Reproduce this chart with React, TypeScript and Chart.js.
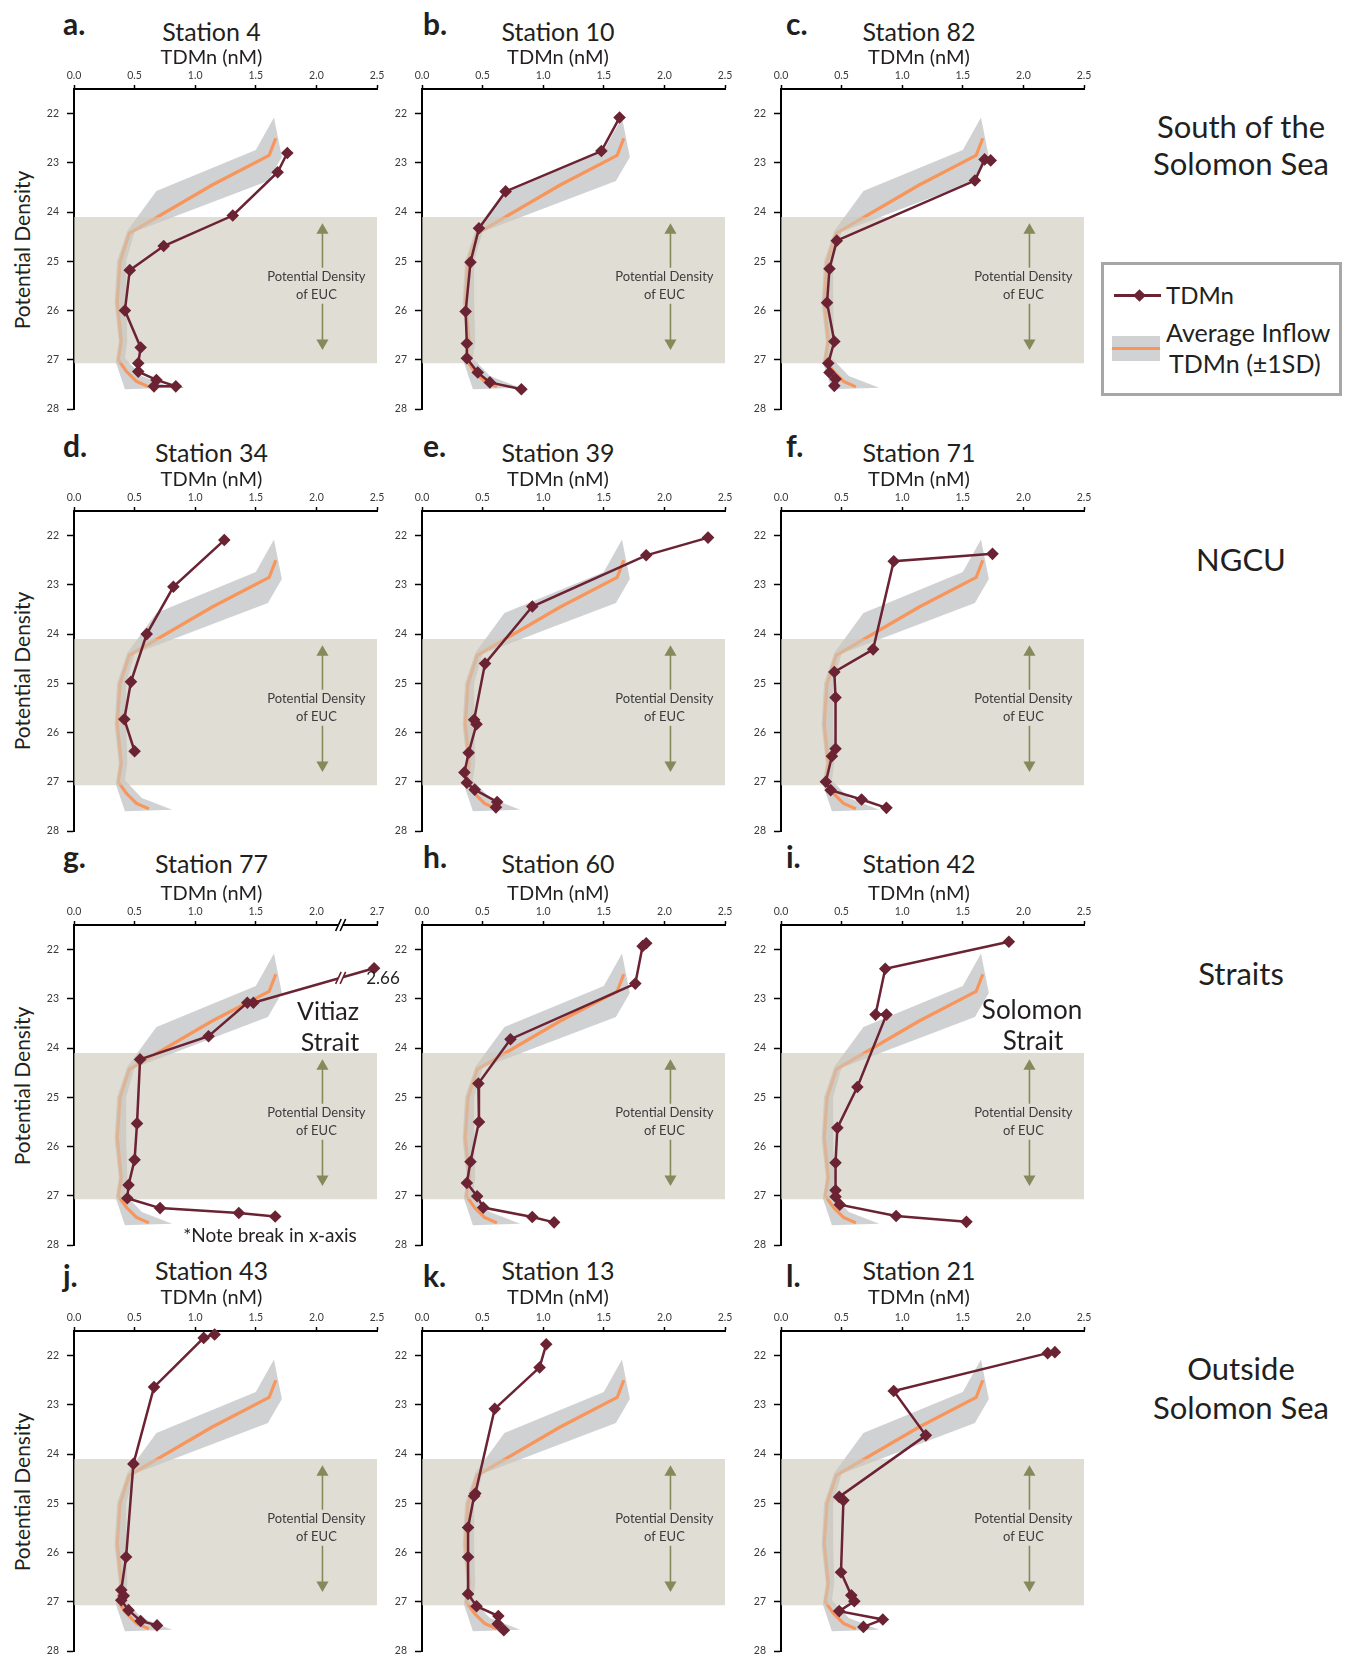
import React, { useEffect, useRef } from 'react';
import { Chart, registerables } from 'chart.js';

Chart.register(...registerables);

// ---------- styling constants ----------
const FONT = 'Lato, "Open Sans", sans-serif';
const MAROON = '#6b2232';
const ORANGE = '#f7955a';
const OLIVE = '#858a5b';
const TEXT = '#231f20';
const TICK_COLOR = '#3a3a3a';
const BAND_COLOR = 'rgba(128,130,135,0.37)';
const EUC_COLOR = 'rgba(205,200,188,0.62)';

// ---------- axes ----------
const TDMN_TICKS = [0, 0.5, 1, 1.5, 2, 2.5];
const DENSITY_TICKS = [22, 23, 24, 25, 26, 27, 28];
const DENSITY_MIN = 21.5;
const DENSITY_MAX = 28;
const TDMN_MAX = 2.5;
const BREAK_AT = 2.2;
const BREAK_RATIO = 0.6;
const BROKEN_LAST_TICK = '2.7';

// ---------- average inflow TDMn (orange) and ±1SD band ----------
const inflowMn = [1.665, 1.61, 1.14, 0.456, 0.38, 0.357, 0.39, 0.365, 0.434, 0.516, 0.618];
const inflowDensity = [22.5, 22.85, 23.45, 24.43, 25.01, 25.82, 26.63, 27.0, 27.24, 27.44, 27.55];
const sdRightMn = [1.65, 1.715, 1.6, 0.5, 0.43, 0.43, 0.44, 0.42, 0.56, 0.81];
const sdRightDensity = [22.08, 22.88, 23.37, 24.4, 25.0, 25.85, 26.63, 26.97, 27.33, 27.57];
const sdLeftMn = [1.5, 0.68, 0.44, 0.355, 0.335, 0.37, 0.345, 0.42];
const sdLeftDensity = [22.74, 23.57, 24.38, 25.0, 25.85, 26.63, 27.05, 27.6];

// ---------- EUC density range ----------
const eucDensity = [24.1, 27.07];
const eucMn = [0, 2.51];
const eucArrowMn = 2.05;
const eucArrowUpper = [24.37, 25.13];
const eucArrowLower = [25.86, 26.66];
const eucLabelMn = 2.0;
const eucLabelDensity = [25.31, 25.68];
const eucLabelLines = ['Potential Density', 'of EUC'];

// ---------- station TDMn profiles ----------
const st4Mn = [1.76, 1.68, 1.31, 0.74, 0.46, 0.42, 0.55, 0.53, 0.53, 0.68, 0.84, 0.66];
const st4Density = [22.8, 23.19, 24.07, 24.69, 25.18, 26.0, 26.75, 27.07, 27.24, 27.41, 27.54, 27.54];
const st10Mn = [1.63, 1.48, 0.69, 0.47, 0.4, 0.36, 0.37, 0.37, 0.46, 0.56, 0.82];
const st10Density = [22.08, 22.76, 23.58, 24.33, 25.02, 26.02, 26.67, 26.97, 27.26, 27.46, 27.6];
const st82Mn = [1.73, 1.68, 1.6, 0.46, 0.4, 0.38, 0.44, 0.39, 0.4, 0.45, 0.44];
const st82Density = [22.95, 22.93, 23.36, 24.58, 25.15, 25.84, 26.63, 27.07, 27.26, 27.39, 27.53];
const st34Mn = [1.24, 0.82, 0.6, 0.47, 0.415, 0.5];
const st34Density = [22.09, 23.04, 24.0, 24.97, 25.73, 26.38];
const st39Mn = [2.36, 1.85, 0.91, 0.52, 0.43, 0.45, 0.385, 0.35, 0.37, 0.435, 0.62, 0.61];
const st39Density = [22.04, 22.4, 23.44, 24.6, 25.74, 25.83, 26.41, 26.81, 27.02, 27.16, 27.41, 27.52];
const st71Mn = [1.745, 0.93, 0.76, 0.44, 0.45, 0.45, 0.42, 0.37, 0.41, 0.665, 0.87];
const st71Density = [22.37, 22.52, 24.31, 24.77, 25.29, 26.33, 26.48, 27.0, 27.17, 27.36, 27.53];
const st77Mn = [2.66, 1.48, 1.43, 1.11, 0.545, 0.52, 0.5, 0.45, 0.44, 0.71, 1.36, 1.66];
const st77Density = [22.38, 23.08, 23.08, 23.76, 24.23, 25.53, 26.27, 26.78, 27.05, 27.25, 27.35, 27.42];
const st60Mn = [1.85, 1.82, 1.76, 0.73, 0.465, 0.47, 0.4, 0.37, 0.455, 0.505, 0.91, 1.09];
const st60Density = [21.87, 21.93, 22.69, 23.82, 24.72, 25.5, 26.31, 26.74, 27.01, 27.24, 27.43, 27.54];
const st42Mn = [1.88, 0.86, 0.78, 0.87, 0.63, 0.465, 0.45, 0.45, 0.45, 0.485, 0.95, 1.53];
const st42Density = [21.84, 22.39, 23.32, 23.32, 24.79, 25.62, 26.33, 26.89, 27.02, 27.18, 27.41, 27.53];
const st43Mn = [1.16, 1.07, 0.66, 0.49, 0.43, 0.39, 0.41, 0.39, 0.45, 0.55, 0.685];
const st43Density = [21.57, 21.64, 22.64, 24.2, 26.09, 26.76, 26.88, 26.97, 27.17, 27.39, 27.48];
const st13Mn = [1.025, 0.97, 0.6, 0.44, 0.43, 0.38, 0.38, 0.38, 0.45, 0.63, 0.625, 0.675];
const st13Density = [21.77, 22.24, 23.08, 24.8, 24.85, 25.49, 26.09, 26.84, 27.09, 27.29, 27.45, 27.58];
const st21Mn = [2.26, 2.2, 0.93, 1.195, 0.48, 0.515, 0.495, 0.58, 0.605, 0.48, 0.84, 0.68];
const st21Density = [21.93, 21.95, 22.72, 23.62, 24.87, 24.94, 26.4, 26.87, 26.99, 27.19, 27.36, 27.51];

type PanelDef = {
  letter: string;
  title: string;
  mn: number[];
  density: number[];
  col: number;
  row: number;
  broken?: boolean;
};

const PANELS: PanelDef[] = [
  { letter: 'a.', title: 'Station 4', mn: st4Mn, density: st4Density, col: 0, row: 0 },
  { letter: 'b.', title: 'Station 10', mn: st10Mn, density: st10Density, col: 1, row: 0 },
  { letter: 'c.', title: 'Station 82', mn: st82Mn, density: st82Density, col: 2, row: 0 },
  { letter: 'd.', title: 'Station 34', mn: st34Mn, density: st34Density, col: 0, row: 1 },
  { letter: 'e.', title: 'Station 39', mn: st39Mn, density: st39Density, col: 1, row: 1 },
  { letter: 'f.', title: 'Station 71', mn: st71Mn, density: st71Density, col: 2, row: 1 },
  { letter: 'g.', title: 'Station 77', mn: st77Mn, density: st77Density, col: 0, row: 2, broken: true },
  { letter: 'h.', title: 'Station 60', mn: st60Mn, density: st60Density, col: 1, row: 2 },
  { letter: 'i.', title: 'Station 42', mn: st42Mn, density: st42Density, col: 2, row: 2 },
  { letter: 'j.', title: 'Station 43', mn: st43Mn, density: st43Density, col: 0, row: 3 },
  { letter: 'k.', title: 'Station 13', mn: st13Mn, density: st13Density, col: 1, row: 3 },
  { letter: 'l.', title: 'Station 21', mn: st21Mn, density: st21Density, col: 2, row: 3 },
];

// ---------- layout (pixels) ----------
const COL_X0 = [73.5, 421.5, 780.5];
const ROW_TOP = [89, 510.5, 925, 1331];
const PLOT_W = 303;
const PLOT_H = 321;
const Y_AXIS_W = 40;
const X_AXIS_H = 28;
const PAD_R = 15;
const PAD_B = 6;
const CANVAS_W = Y_AXIS_W + PLOT_W + PAD_R;
const CANVAS_H = X_AXIS_H + PLOT_H + PAD_B;

const COL_LETTER_X = [63, 423, 786];
const COL_TITLE_X = [211.5, 558, 919];
const ROW_LETTER_Y = [23, 445, 856, 1275];
const ROW_TITLE_Y = [31, 452, 863, 1270];
const ROW_UNIT_Y = [55.5, 477.5, 891.5, 1296];

const toPts = (xs: number[], ys: number[]) => xs.map((x, i) => ({ x, y: ys[i] }));

function drawBreak(ctx: CanvasRenderingContext2D, cx: number, cy: number, color: string) {
  ctx.save();
  ctx.fillStyle = '#fff';
  ctx.beginPath();
  ctx.moveTo(cx - 5, cy + 6);
  ctx.lineTo(cx + 0.5, cy - 6);
  ctx.lineTo(cx + 5, cy - 6);
  ctx.lineTo(cx - 0.5, cy + 6);
  ctx.closePath();
  ctx.fill();
  ctx.strokeStyle = color;
  ctx.lineWidth = 1.6;
  ctx.beginPath();
  ctx.moveTo(cx - 5, cy + 6);
  ctx.lineTo(cx + 0.5, cy - 6);
  ctx.moveTo(cx - 0.5, cy + 6);
  ctx.lineTo(cx + 5, cy - 6);
  ctx.stroke();
  ctx.restore();
}

function Panel({ p }: { p: PanelDef }) {
  const ref = useRef<HTMLCanvasElement>(null);
  useEffect(() => {
    const canvas = ref.current;
    if (!canvas) return;
    const broken = !!p.broken;
    const toAxis = (v: number) => (broken && v > BREAK_AT ? BREAK_AT + (v - BREAK_AT) * BREAK_RATIO : v);

    const band = [...toPts(sdRightMn, sdRightDensity), ...toPts(sdLeftMn, sdLeftDensity).reverse()];
    const inflow = toPts(inflowMn, inflowDensity);
    const box = [
      { x: eucMn[0], y: eucDensity[0] },
      { x: eucMn[1], y: eucDensity[0] },
      { x: eucMn[1], y: eucDensity[1] },
      { x: eucMn[0], y: eucDensity[1] },
    ];
    const upper = eucArrowUpper.map((y) => ({ x: eucArrowMn, y }));
    const lower = eucArrowLower.map((y) => ({ x: eucArrowMn, y }));
    const station = p.mn.map((v, i) => ({ x: toAxis(v), y: p.density[i] }));

    const annot = {
      id: 'annot',
      afterDatasetsDraw(chart: any) {
        const { ctx, chartArea, scales } = chart;
        const xs = scales.x;
        const ys = scales.y;
        ctx.save();
        ctx.font = `13px ${FONT}`;
        ctx.fillStyle = '#3c3c3c';
        ctx.textAlign = 'center';
        ctx.textBaseline = 'middle';
        eucLabelLines.forEach((t, i) => {
          ctx.fillText(t, xs.getPixelForValue(eucLabelMn), ys.getPixelForValue(eucLabelDensity[i]));
        });
        ctx.restore();
        if (broken) {
          const bx = xs.getPixelForValue(BREAK_AT);
          drawBreak(ctx, bx, chartArea.top, '#000');
          for (let i = 0; i < station.length - 1; i++) {
            const a = station[i];
            const b = station[i + 1];
            if ((a.x - BREAK_AT) * (b.x - BREAK_AT) <= 0 && a.x !== b.x) {
              const t = (BREAK_AT - a.x) / (b.x - a.x);
              const yv = a.y + t * (b.y - a.y);
              drawBreak(ctx, bx, ys.getPixelForValue(yv), MAROON);
              break;
            }
          }
        }
      },
    };

    const tickFont = { family: FONT, size: 10.5 };
    const chart = new Chart(canvas, {
      type: 'scatter',
      data: {
        datasets: [
          {
            label: 'band',
            data: band,
            showLine: true,
            fill: 'shape',
            backgroundColor: BAND_COLOR,
            borderColor: 'transparent',
            borderWidth: 0,
            pointRadius: 0,
            order: 10,
          } as any,
          {
            label: 'Average Inflow',
            data: inflow,
            showLine: true,
            fill: false,
            borderColor: ORANGE,
            borderWidth: 3.2,
            pointRadius: 0,
            order: 9,
          },
          {
            label: 'EUC',
            data: box,
            showLine: true,
            fill: 'shape',
            backgroundColor: EUC_COLOR,
            borderColor: 'transparent',
            borderWidth: 0,
            pointRadius: 0,
            order: 8,
          } as any,
          {
            label: 'arrowUp',
            data: upper,
            showLine: true,
            fill: false,
            borderColor: OLIVE,
            backgroundColor: OLIVE,
            borderWidth: 1.6,
            pointStyle: 'triangle',
            pointRadius: [7, 0],
            pointRotation: [0, 0],
            pointBorderWidth: 0,
            order: 7,
            clip: false,
          } as any,
          {
            label: 'arrowDown',
            data: lower,
            showLine: true,
            fill: false,
            borderColor: OLIVE,
            backgroundColor: OLIVE,
            borderWidth: 1.6,
            pointStyle: 'triangle',
            pointRadius: [0, 7],
            pointRotation: [0, 180],
            pointBorderWidth: 0,
            order: 6,
            clip: false,
          } as any,
          {
            label: 'TDMn',
            data: station,
            showLine: true,
            fill: false,
            borderColor: MAROON,
            backgroundColor: MAROON,
            borderWidth: 2.5,
            pointStyle: 'rectRot',
            pointRadius: 6.3,
            pointBorderWidth: 0,
            order: 1,
            clip: false,
          } as any,
        ],
      },
      options: {
        responsive: false,
        animation: false,
        events: [],
        layout: { padding: { left: 0, right: PAD_R, top: 0, bottom: PAD_B } },
        plugins: {
          legend: { display: false },
          tooltip: { enabled: false },
          title: { display: false },
        },
        scales: {
          x: {
            type: 'linear',
            position: 'top',
            min: 0,
            max: TDMN_MAX,
            afterBuildTicks: (s: any) => {
              s.ticks = TDMN_TICKS.map((v) => ({ value: v }));
            },
            afterFit: (s: any) => {
              s.height = X_AXIS_H;
              s.paddingLeft = 0;
              s.paddingRight = 0;
            },
            ticks: {
              autoSkip: false,
              maxRotation: 0,
              padding: 3,
              color: TICK_COLOR,
              font: tickFont,
              callback: (v: any) => (broken && Number(v) === TDMN_MAX ? BROKEN_LAST_TICK : Number(v).toFixed(1)),
            },
            grid: { drawOnChartArea: false, drawTicks: true, tickLength: 4, tickColor: '#000', tickWidth: 1.5 },
            border: { display: true, color: '#000', width: 2 },
          },
          y: {
            type: 'linear',
            reverse: true,
            min: DENSITY_MIN,
            max: DENSITY_MAX,
            afterBuildTicks: (s: any) => {
              s.ticks = DENSITY_TICKS.map((v) => ({ value: v }));
            },
            afterFit: (s: any) => {
              s.width = Y_AXIS_W;
              s.paddingTop = 0;
              s.paddingBottom = 0;
            },
            ticks: {
              autoSkip: false,
              padding: 8,
              color: TICK_COLOR,
              font: tickFont,
              callback: (v: any) => String(v),
            },
            grid: { drawOnChartArea: false, drawTicks: true, tickLength: 7, tickColor: '#000', tickWidth: 1.5 },
            border: { display: true, color: '#000', width: 2 },
          },
        },
      } as any,
      plugins: [annot],
    });
    return () => chart.destroy();
  }, [p]);

  const left = COL_X0[p.col] - Y_AXIS_W;
  const top = ROW_TOP[p.row] - X_AXIS_H;
  return (
    <canvas
      ref={ref}
      width={CANVAS_W}
      height={CANVAS_H}
      style={{ position: 'absolute', left, top, width: CANVAS_W, height: CANVAS_H }}
    />
  );
}

type TxtProps = {
  x: number;
  y: number;
  size: number;
  children: React.ReactNode;
  bold?: boolean;
  align?: 'center' | 'left';
  rotate?: number;
  color?: string;
};

function Txt({ x, y, size, children, bold, align = 'center', rotate, color = TEXT }: TxtProps) {
  const tx = align === 'center' ? '-50%' : '0';
  return (
    <div
      style={{
        position: 'absolute',
        left: x,
        top: y,
        transform: `translate(${tx},-50%)${rotate ? ` rotate(${rotate}deg)` : ''}`,
        fontFamily: FONT,
        fontSize: size,
        fontWeight: bold ? 700 : 400,
        lineHeight: 1,
        whiteSpace: 'nowrap',
        color,
      }}
    >
      {children}
    </div>
  );
}

const REGION_X = 1241;

export default function App() {
  return (
    <div
      style={{
        position: 'absolute',
        left: 0,
        top: 0,
        width: 1346,
        height: 1657,
        overflow: 'hidden',
        background: '#fff',
      }}
    >
      {PANELS.map((p) => (
        <Panel key={p.letter} p={p} />
      ))}
      {PANELS.map((p) => (
        <React.Fragment key={'t' + p.letter}>
          <Txt x={COL_LETTER_X[p.col]} y={ROW_LETTER_Y[p.row]} size={30} bold align="left">
            {p.letter}
          </Txt>
          <Txt x={COL_TITLE_X[p.col]} y={ROW_TITLE_Y[p.row]} size={25}>
            {p.title}
          </Txt>
          <Txt x={COL_TITLE_X[p.col]} y={ROW_UNIT_Y[p.row]} size={20}>
            TDMn (nM)
          </Txt>
          {p.col === 0 && (
            <Txt x={21} y={ROW_TOP[p.row] + PLOT_H / 2} size={21} rotate={-90}>
              Potential Density
            </Txt>
          )}
        </React.Fragment>
      ))}

      {/* panel g annotations */}
      <Txt x={328} y={1010} size={25}>Vitiaz</Txt>
      <Txt x={330} y={1041} size={25}>Strait</Txt>
      <Txt x={383} y={977} size={17}>2.66</Txt>
      <Txt x={270} y={1234} size={19}>*Note break in x-axis</Txt>

      {/* panel i annotations */}
      <Txt x={1032} y={1009} size={26}>Solomon</Txt>
      <Txt x={1033} y={1040} size={26}>Strait</Txt>

      {/* region labels */}
      <Txt x={REGION_X} y={126} size={31}>South of the</Txt>
      <Txt x={REGION_X} y={163} size={31}>Solomon Sea</Txt>
      <Txt x={REGION_X} y={559} size={31}>NGCU</Txt>
      <Txt x={REGION_X} y={973} size={31}>Straits</Txt>
      <Txt x={REGION_X} y={1368} size={31}>Outside</Txt>
      <Txt x={REGION_X} y={1407} size={31}>Solomon Sea</Txt>

      {/* legend */}
      <div
        style={{
          position: 'absolute',
          left: 1101,
          top: 262,
          width: 241,
          height: 134,
          boxSizing: 'border-box',
          border: '3px solid #a7a7a7',
          background: '#fff',
        }}
      />
      <div style={{ position: 'absolute', left: 1114, top: 294, width: 47, height: 2.5, background: MAROON }} />
      <div
        style={{
          position: 'absolute',
          left: 1134.5,
          top: 290.5,
          width: 9,
          height: 9,
          background: MAROON,
          transform: 'rotate(45deg)',
        }}
      />
      <Txt x={1166} y={295} size={24} align="left">TDMn</Txt>
      <div style={{ position: 'absolute', left: 1112, top: 336, width: 48, height: 25, background: '#d1d2d4' }} />
      <div style={{ position: 'absolute', left: 1112, top: 346.5, width: 48, height: 3, background: ORANGE }} />
      <Txt x={1166} y={332} size={25} align="left">Average Inflow</Txt>
      <Txt x={1169} y={363} size={25} align="left">TDMn (±1SD)</Txt>
    </div>
  );
}
